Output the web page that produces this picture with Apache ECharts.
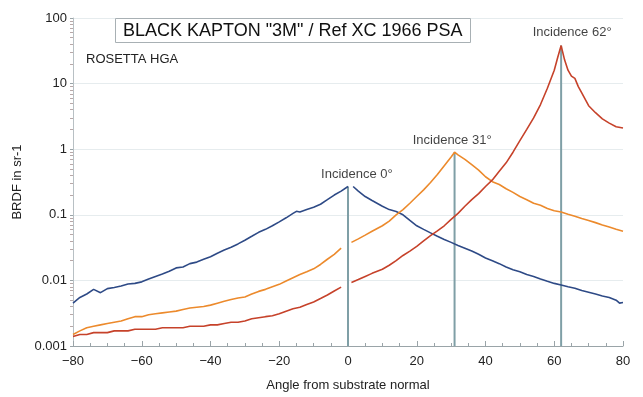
<!DOCTYPE html>
<html>
<head>
<meta charset="utf-8">
<script src="https://cdn.jsdelivr.net/npm/echarts@6/dist/echarts.min.js"></script>
<style>
  html, body { margin: 0; padding: 0; background: #fff; }
  #chart { width: 643px; height: 397px; }
</style>
</head>
<body>
<div id="chart"></div>
<script>
  // incidence 0° (blue), split at the specular direction
  var blueLeft = [[-80, 0.0045], [-78, 0.0055], [-76, 0.0062], [-74, 0.0073], [-72, 0.0065], [-70, 0.0075], [-68, 0.0078], [-66, 0.0082],
    [-64, 0.0088], [-62, 0.009], [-60, 0.0095], [-58, 0.0105], [-56, 0.0115], [-54, 0.0125], [-52, 0.0138], [-50, 0.0155],
    [-48, 0.016], [-46, 0.018], [-44, 0.019], [-42, 0.021], [-40, 0.023], [-38, 0.026], [-36, 0.029], [-34, 0.032],
    [-32, 0.036], [-30, 0.041], [-28, 0.047], [-26, 0.054], [-24, 0.06], [-22, 0.068], [-20, 0.078], [-18, 0.09],
    [-16, 0.105], [-15, 0.113], [-14, 0.11], [-12, 0.12], [-10, 0.13], [-8, 0.145], [-6, 0.17], [-4, 0.2], [-2, 0.23], [0, 0.27]];
  var blueRight = [[1.5, 0.27], [3, 0.23], [5, 0.19], [7, 0.165], [10, 0.135], [12, 0.12], [14, 0.112], [16, 0.1], [18, 0.082],
    [20, 0.068], [22, 0.06], [24, 0.053], [26, 0.047], [28, 0.042], [30, 0.038], [32, 0.034], [34, 0.031], [36, 0.028],
    [38, 0.025], [40, 0.022], [42, 0.02], [44, 0.018], [46, 0.016], [48, 0.0145], [50, 0.0135], [52, 0.0123], [54, 0.0115],
    [56, 0.0105], [58, 0.0097], [60, 0.009], [62, 0.0085], [64, 0.008], [66, 0.0076], [68, 0.007], [70, 0.0066], [72, 0.0062],
    [74, 0.0058], [76, 0.0055], [78, 0.005], [79, 0.0045], [80, 0.0046]];

  // incidence 31° (orange)
  var orangeLeft = [[-80, 0.0015], [-78, 0.0017], [-76, 0.0019], [-74, 0.002], [-72, 0.0021], [-70, 0.0022], [-68, 0.0023], [-66, 0.0024],
    [-64, 0.0026], [-62, 0.0028], [-60, 0.0028], [-58, 0.003], [-56, 0.0031], [-54, 0.0032], [-52, 0.0033], [-50, 0.0034],
    [-48, 0.0036], [-46, 0.0038], [-44, 0.0039], [-42, 0.004], [-40, 0.0042], [-38, 0.0045], [-36, 0.0048], [-34, 0.0051],
    [-32, 0.0054], [-30, 0.0056], [-28, 0.0062], [-26, 0.0068], [-24, 0.0073], [-22, 0.008], [-20, 0.0087], [-18, 0.0098],
    [-16, 0.011], [-14, 0.0123], [-12, 0.0135], [-10, 0.015], [-8, 0.0175], [-6, 0.021], [-4, 0.025], [-2, 0.031]];
  var orangeRight = [[1, 0.038], [3, 0.043], [5, 0.049], [7, 0.056], [10, 0.068], [12, 0.08], [14, 0.1], [16, 0.12], [18, 0.15],
    [20, 0.19], [22, 0.24], [24, 0.31], [26, 0.41], [28, 0.56], [30, 0.76], [31, 0.9], [32, 0.82], [34, 0.7], [36, 0.58],
    [38, 0.48], [40, 0.38], [42, 0.32], [44, 0.29], [46, 0.25], [48, 0.22], [50, 0.19], [52, 0.17], [54, 0.15], [56, 0.14],
    [58, 0.125], [60, 0.115], [62, 0.11], [64, 0.102], [66, 0.095], [68, 0.088], [70, 0.082], [72, 0.076], [74, 0.07],
    [76, 0.065], [78, 0.06], [80, 0.056]];

  // incidence 62° (red)
  var redLeft = [[-80, 0.0014], [-78, 0.0015], [-76, 0.0015], [-74, 0.0016], [-72, 0.0016], [-70, 0.0016], [-68, 0.0017], [-66, 0.0017],
    [-64, 0.0017], [-62, 0.0018], [-60, 0.0018], [-58, 0.0018], [-56, 0.0018], [-54, 0.0019], [-52, 0.0019], [-50, 0.0019],
    [-48, 0.0019], [-46, 0.002], [-44, 0.002], [-42, 0.002], [-40, 0.0021], [-38, 0.0021], [-36, 0.0022], [-34, 0.0023],
    [-32, 0.0023], [-30, 0.0024], [-28, 0.0026], [-26, 0.0027], [-24, 0.0028], [-22, 0.0029], [-20, 0.0031], [-18, 0.0034],
    [-16, 0.0037], [-14, 0.0039], [-12, 0.0043], [-10, 0.0047], [-8, 0.0053], [-6, 0.006], [-4, 0.0069], [-2, 0.0079]];
  var redRight = [[1, 0.0093], [3, 0.0103], [5, 0.0115], [7, 0.0128], [10, 0.0148], [12, 0.017], [14, 0.02], [16, 0.024],
    [18, 0.028], [20, 0.033], [22, 0.04], [24, 0.048], [26, 0.057], [28, 0.068], [30, 0.085], [32, 0.105], [34, 0.135],
    [36, 0.17], [38, 0.21], [40, 0.27], [42, 0.34], [44, 0.46], [46, 0.62], [48, 0.9], [50, 1.35], [52, 2.0], [54, 3.0],
    [56, 4.8], [58, 8.5], [60, 16], [61, 25], [62, 38], [63, 23], [64, 16], [65, 13], [66, 12], [67, 9], [68, 7.2],
    [70, 4.6], [72, 3.6], [74, 2.9], [76, 2.5], [78, 2.2], [80, 2.1]];

  // specular directions: [angle, peak value]
  var incidences = [[0, 0.27], [31, 0.9], [62, 38]];
  var incidenceLabels = ['Incidence 0°', 'Incidence 31°', 'Incidence 62°'];
  var labelAnchors = [[2.6, 0.33], [30.3, 1.1], [65.2, 48]];

  var BLUE = '#2e4a86', ORANGE = '#ec8a2c', RED = '#c6422a', VLINE = '#7f9fa6';
  var FONT = 'Liberation Sans, Arial, sans-serif';

  var chart = echarts.init(document.getElementById('chart'));

  function curve(data, color) {
    return {
      type: 'line', data: data, showSymbol: false, silent: true,
      lineStyle: {color: color, width: 1.6}, animation: false
    };
  }

  var series = [
    curve(blueLeft, BLUE), curve(blueRight, BLUE),
    curve(orangeLeft, ORANGE), curve(orangeRight, ORANGE),
    curve(redLeft, RED), curve(redRight, RED)
  ];

  incidences.forEach(function (p) {
    series.push({
      type: 'line', data: [[p[0], 0.001], [p[0], p[1]]], showSymbol: false, silent: true,
      lineStyle: {color: VLINE, width: 2}, z: 1, animation: false
    });
  });

  series.push({
    type: 'scatter', symbolSize: 0, silent: true, animation: false,
    data: labelAnchors.map(function (a, i) { return {value: a, name: incidenceLabels[i]}; }),
    label: {
      show: true, position: 'top', distance: 0, formatter: '{b}',
      color: '#111', fontSize: 13, fontFamily: FONT
    }
  });

  var option = {
    backgroundColor: '#fff',
    animation: false,
    title: {
      text: 'BLACK KAPTON "3M" / Ref XC 1966 PSA',
      left: 115, top: 18,
      padding: [4, 8, 3, 8],
      borderColor: '#a8b0b4', borderWidth: 1,
      backgroundColor: '#fff',
      textStyle: {fontSize: 18, fontWeight: 'normal', color: '#111', fontFamily: FONT}
    },
    graphic: [{
      type: 'text', left: 86, top: 53,
      style: {text: 'ROSETTA HGA', fill: '#222', font: '13px ' + FONT}
    }],
    grid: {left: 73, right: 20, top: 18, bottom: 50},
    xAxis: {
      type: 'value', min: -80, max: 80, interval: 20,
      name: 'Angle from substrate normal', nameLocation: 'middle', nameGap: 33,
      nameTextStyle: {fontSize: 13, color: '#222', fontFamily: FONT},
      axisLine: {onZero: false, lineStyle: {color: '#9aa4a8'}},
      axisTick: {inside: true, length: 5, lineStyle: {color: '#9aa4a8'}},
      minorTick: {show: true, splitNumber: 4, length: 3, lineStyle: {color: '#9aa4a8'}},
      splitLine: {show: false},
      axisLabel: {
        fontSize: 13, color: '#222', fontFamily: FONT, margin: 9,
        formatter: function (v) { return String(v).replace('-', '\u2212'); }
      }
    },
    yAxis: {
      type: 'log', logBase: 10, min: 0.001, max: 100,
      name: 'BRDF in sr-1', nameLocation: 'middle', nameGap: 45, nameRotate: 90,
      nameTextStyle: {fontSize: 13, color: '#222', fontFamily: FONT},
      axisLine: {show: true, onZero: false, lineStyle: {color: '#b8c0c4'}},
      axisTick: {show: true, length: 3, lineStyle: {color: '#9aa4a8'}},
      minorTick: {show: true, splitNumber: 9, length: 3, lineStyle: {color: '#b8a8a8'}},
      splitLine: {show: true, lineStyle: {color: '#e6ecee', width: 1}},
      axisLabel: {
        fontSize: 13, color: '#222', fontFamily: FONT, margin: 6,
        formatter: function (v) { return String(+v.toPrecision(3)); }
      }
    },
    series: series
  };

  chart.setOption(option);
</script>
</body>
</html>
